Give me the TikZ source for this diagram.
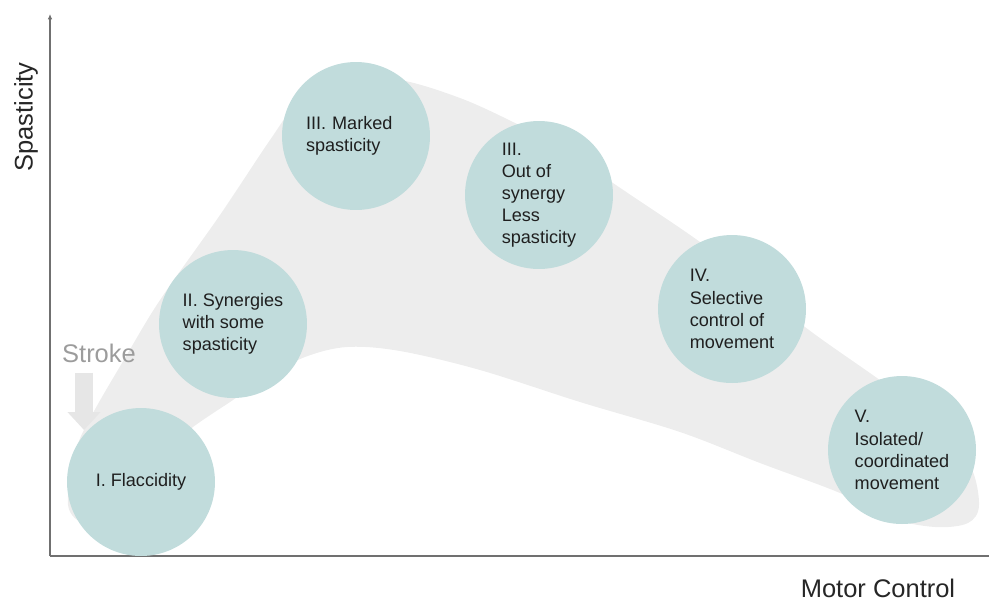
\documentclass[tikz,border=0pt]{standalone}
\usepackage{fontspec}
\setmainfont{Liberation Sans}
\usetikzlibrary{arrows.meta}
\tikzset{>=latex, line width=1.0pt}
\definecolor{stagefill}{HTML}{C1DCDC}
\definecolor{bandgrey}{HTML}{EDEDED}
\definecolor{axisgrey}{HTML}{707070}
\definecolor{strokegrey}{HTML}{9C9C9C}

\begin{document}
\begin{tikzpicture}[x=0.02cm,y=-0.02cm,
    stage/.style={circle,fill=stagefill,minimum size=2.96cm,inner sep=0pt,align=left,
      text=black!88,font=\fontsize{10.3}{12.6}\selectfont},
    axislabel/.style={text=black!85,font=\fontsize{14.5}{17}\selectfont},
    axis/.style={draw=axisgrey,line width=0.85pt}]
  \useasboundingbox (0,0) rectangle (989,603);

  % recovery band
  \fill[bandgrey] plot[smooth cycle,tension=0.55] coordinates {
    (68,505) (76,450) (93,413) (125,358) (160,300) (220,215) (270,140) (300,100)
    (340,78) (400,80) (460,98) (513,122) (570,152) (613,183) (693,237) (750,280)
    (805,327) (877,378) (935,420) (970,465) (979,505) (968,523) (935,527) (890,518)
    (840,493) (760,463) (680,432) (580,402) (480,370) (400,351) (347,347) (305,357)
    (265,378) (233,400) (193,427) (150,462) (110,500) (85,522)};

  % Axes
  \coordinate (o) at (50,556);
  \coordinate (ytop) at (50,14);
  \coordinate (xend) at (989,556);
  \draw[axis,-{Latex[length=3pt,width=2.6pt]}] (o) -- (ytop);
  \draw[axis] (o) -- (xend);
  \node[axislabel,rotate=90] (ylab) at (26,117) {Spasticity};
  \node[axislabel,inner sep=0pt,anchor=base] (xlab) at (878,597) {Motor Control};

  % Stroke
  \node[text=strokegrey,font=\fontsize{14.5}{17}\selectfont] (stroke) at (99,353) {Stroke};
  \coordinate (hit) at (84,430);
  \draw[bandgrey!97!black,line width=0.36cm,-{Triangle[width=0.64cm,length=0.36cm]}]
    (stroke.south -| hit) ++(0,4) -- (hit);

  % Stages
  \node[stage] (flacc) at (141,482) {I. Flaccidity};
  \node[stage] (syn) at (233,324) {II. Synergies\\with some\\spasticity};
  \node[stage,text width=2.0cm] (marked) at (356,136) {III. Marked\\spasticity};
  \node[stage] (outsyn) at (539,195) {III.\\Out of\\synergy\\Less\\spasticity};
  \node[stage] (select) at (732,309) {IV.\\Selective\\control of\\movement};
  \node[stage] (iso) at (902,450) {V.\\Isolated/\\coordinated\\movement};
\end{tikzpicture}
\end{document}
